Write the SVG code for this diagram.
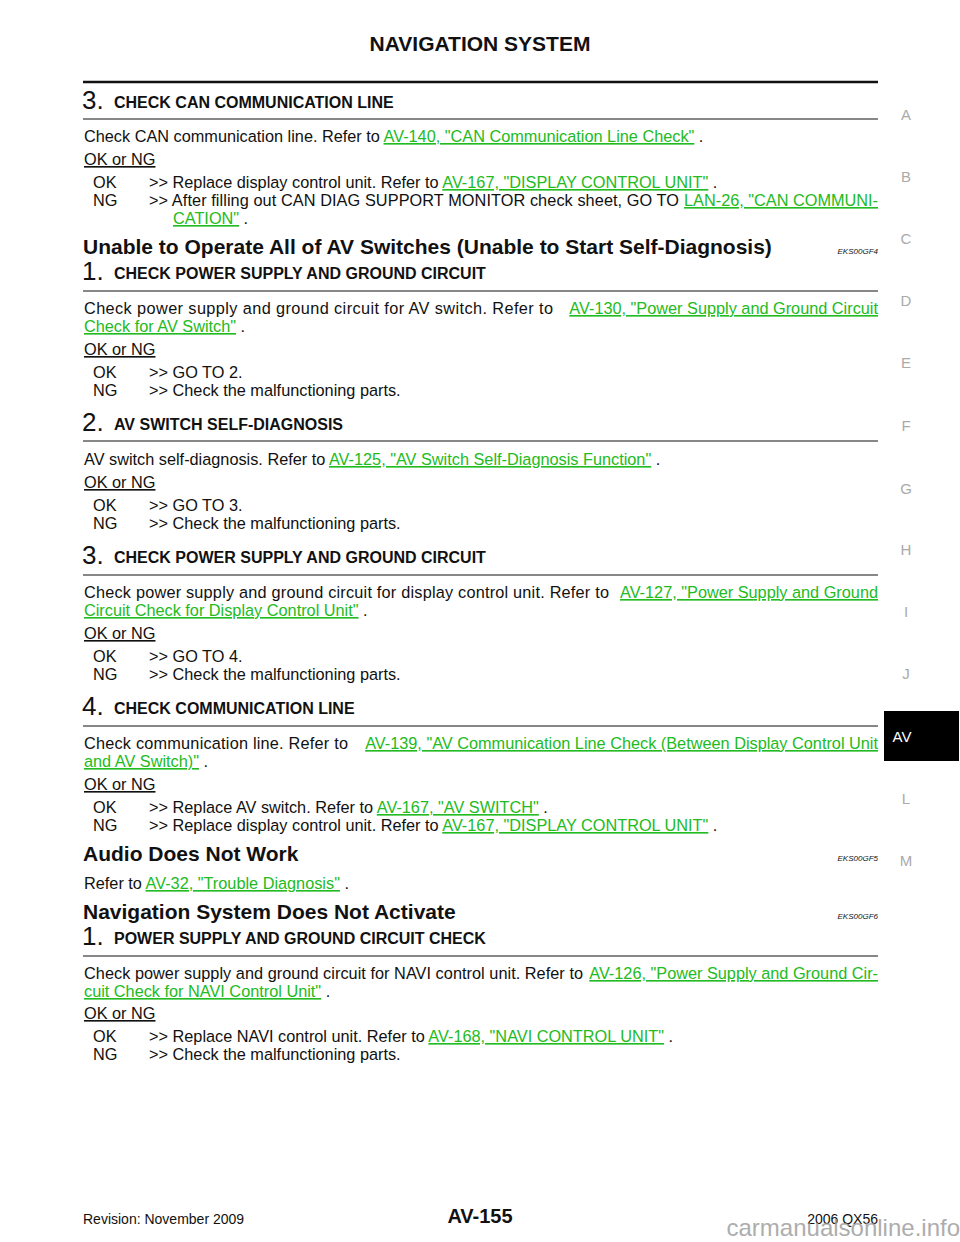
<svg xmlns="http://www.w3.org/2000/svg" width="960" height="1242" viewBox="0 0 960 1242">
<style>
text{font-family:"Liberation Sans",Arial,sans-serif;fill:#111}
.b{font-size:16.3px}
.l{fill:#22bb22;text-decoration:underline}
.h{font-size:16px;font-weight:bold}
.n{font-size:26px}
.t{font-size:21px;font-weight:bold}
.c{font-size:8px;font-style:italic}
.s{font-size:15px;fill:#aaa;text-anchor:middle}
.u{text-decoration:underline}
line{stroke:#111}
</style>
<rect width="960" height="1242" fill="#fff"/>
<text x="480" y="51" text-anchor="middle" style="font-size:21px;font-weight:bold">NAVIGATION SYSTEM</text>
<line x1="83" y1="82" x2="878" y2="82" stroke-width="2.5"/>
<g id="side">
<text class="s" x="906" y="120">A</text><text class="s" x="906" y="182">B</text><text class="s" x="906" y="244">C</text><text class="s" x="906" y="306">D</text><text class="s" x="906" y="368">E</text><text class="s" x="906" y="431">F</text><text class="s" x="906" y="494">G</text><text class="s" x="906" y="555">H</text><text class="s" x="906" y="617">I</text><text class="s" x="906" y="679">J</text>
<rect x="884" y="711" width="75" height="50" fill="#000"/>
<text x="902" y="742" text-anchor="middle" style="font-size:15px;fill:#fff">AV</text>
<text class="s" x="906" y="804">L</text><text class="s" x="906" y="866">M</text>
</g>
<g id="s3can">
<text class="n" x="82" y="109">3.</text><text class="h" x="114" y="108">CHECK CAN COMMUNICATION LINE</text>
<line x1="83" y1="119" x2="878" y2="119"/>
<text class="b" x="84" y="142">Check CAN communication line. Refer to <tspan class="l">AV-140, "CAN Communication Line Check"</tspan> .</text>
<text class="b u" x="84" y="165">OK or NG</text>
<text class="b" x="93" y="188">OK</text><text class="b" x="149" y="188">&gt;&gt; Replace display control unit. Refer to <tspan class="l">AV-167, "DISPLAY CONTROL UNIT"</tspan> .</text>
<text class="b" x="93" y="206">NG</text><text class="b" x="149" y="206" textLength="530" lengthAdjust="spacing">&gt;&gt; After filling out CAN DIAG SUPPORT MONITOR check sheet, GO TO</text><text class="b l" x="878" y="206" text-anchor="end">LAN-26, "CAN COMMUNI-</text>
<text class="b" x="173" y="224"><tspan class="l">CATION"</tspan> .</text>
</g>
<g id="unable">
<text class="t" x="83" y="254">Unable to Operate All of AV Switches (Unable to Start Self-Diagnosis)</text>
<text class="c" x="878" y="254" text-anchor="end">EKS00GF4</text>
<text class="n" x="82" y="280">1.</text><text class="h" x="114" y="279">CHECK POWER SUPPLY AND GROUND CIRCUIT</text>
<line x1="83" y1="291" x2="878" y2="291"/>
<text class="b" x="84" y="314" textLength="469" lengthAdjust="spacing">Check power supply and ground circuit for AV switch. Refer to</text><text class="b l" x="878" y="314" text-anchor="end">AV-130, "Power Supply and Ground Circuit</text>
<text class="b" x="84" y="332"><tspan class="l">Check for AV Switch"</tspan> .</text>
<text class="b u" x="84" y="355">OK or NG</text>
<text class="b" x="93" y="378">OK</text><text class="b" x="149" y="378">&gt;&gt; GO TO 2.</text>
<text class="b" x="93" y="396">NG</text><text class="b" x="149" y="396">&gt;&gt; Check the malfunctioning parts.</text>

<text class="n" x="82" y="431">2.</text><text class="h" x="114" y="430">AV SWITCH SELF-DIAGNOSIS</text>
<line x1="83" y1="441" x2="878" y2="441"/>
<text class="b" x="84" y="465">AV switch self-diagnosis. Refer to <tspan class="l">AV-125, "AV Switch Self-Diagnosis Function"</tspan>  .</text>
<text class="b u" x="84" y="488">OK or NG</text>
<text class="b" x="93" y="511">OK</text><text class="b" x="149" y="511">&gt;&gt; GO TO 3.</text>
<text class="b" x="93" y="529">NG</text><text class="b" x="149" y="529">&gt;&gt; Check the malfunctioning parts.</text>

<text class="n" x="82" y="564">3.</text><text class="h" x="114" y="563">CHECK POWER SUPPLY AND GROUND CIRCUIT</text>
<line x1="83" y1="575" x2="878" y2="575"/>
<text class="b" x="84" y="598" textLength="525" lengthAdjust="spacing">Check power supply and ground circuit for display control unit. Refer to</text><text class="b l" x="878" y="598" text-anchor="end">AV-127, "Power Supply and Ground</text>
<text class="b" x="84" y="616"><tspan class="l">Circuit Check for Display Control Unit"</tspan> .</text>
<text class="b u" x="84" y="639">OK or NG</text>
<text class="b" x="93" y="662">OK</text><text class="b" x="149" y="662">&gt;&gt; GO TO 4.</text>
<text class="b" x="93" y="680">NG</text><text class="b" x="149" y="680">&gt;&gt; Check the malfunctioning parts.</text>

<text class="n" x="82" y="715">4.</text><text class="h" x="114" y="714">CHECK COMMUNICATION LINE</text>
<line x1="83" y1="726" x2="878" y2="726"/>
<text class="b" x="84" y="749" textLength="264" lengthAdjust="spacing">Check communication line. Refer to</text><text class="b l" x="878" y="749" text-anchor="end">AV-139, "AV Communication Line Check (Between Display Control Unit</text>
<text class="b" x="84" y="767"><tspan class="l">and AV Switch)"</tspan> .</text>
<text class="b u" x="84" y="790">OK or NG</text>
<text class="b" x="93" y="813">OK</text><text class="b" x="149" y="813">&gt;&gt; Replace AV switch. Refer to <tspan class="l">AV-167, "AV SWITCH"</tspan> .</text>
<text class="b" x="93" y="831">NG</text><text class="b" x="149" y="831">&gt;&gt; Replace display control unit. Refer to <tspan class="l">AV-167, "DISPLAY CONTROL UNIT"</tspan> .</text>
</g>
<g id="audio">
<text class="t" x="83" y="861">Audio Does Not Work</text>
<text class="c" x="878" y="861" text-anchor="end">EKS00GF5</text>
<text class="b" x="84" y="889">Refer to <tspan class="l">AV-32, "Trouble Diagnosis"</tspan>  .</text>
</g>
<g id="navi">
<text class="t" x="83" y="919">Navigation System Does Not Activate</text>
<text class="c" x="878" y="919" text-anchor="end">EKS00GF6</text>
<text class="n" x="82" y="945">1.</text><text class="h" x="114" y="944">POWER SUPPLY AND GROUND CIRCUIT CHECK</text>
<line x1="83" y1="956" x2="878" y2="956"/>
<text class="b" x="84" y="979" textLength="499" lengthAdjust="spacing">Check power supply and ground circuit for NAVI control unit. Refer to</text><text class="b l" x="878" y="979" text-anchor="end">AV-126, "Power Supply and Ground Cir-</text>
<text class="b" x="84" y="997"><tspan class="l">cuit Check for NAVI Control Unit"</tspan>  .</text>
<text class="b u" x="84" y="1019">OK or NG</text>
<text class="b" x="93" y="1042">OK</text><text class="b" x="149" y="1042">&gt;&gt; Replace NAVI control unit. Refer to <tspan class="l">AV-168, "NAVI CONTROL UNIT"</tspan> .</text>
<text class="b" x="93" y="1060">NG</text><text class="b" x="149" y="1060">&gt;&gt; Check the malfunctioning parts.</text>
</g>
<g id="footer">
<text x="83" y="1224" style="font-size:14px">Revision: November 2009</text>
<text x="480" y="1223" text-anchor="middle" style="font-size:20px;font-weight:bold">AV-155</text>
<text x="878" y="1224" text-anchor="end" style="font-size:14px">2006 QX56</text>
<text x="960" y="1236" text-anchor="end" style="font-size:24px;fill:#999;opacity:0.8">carmanualsonline.info</text>
</g>
</svg>
